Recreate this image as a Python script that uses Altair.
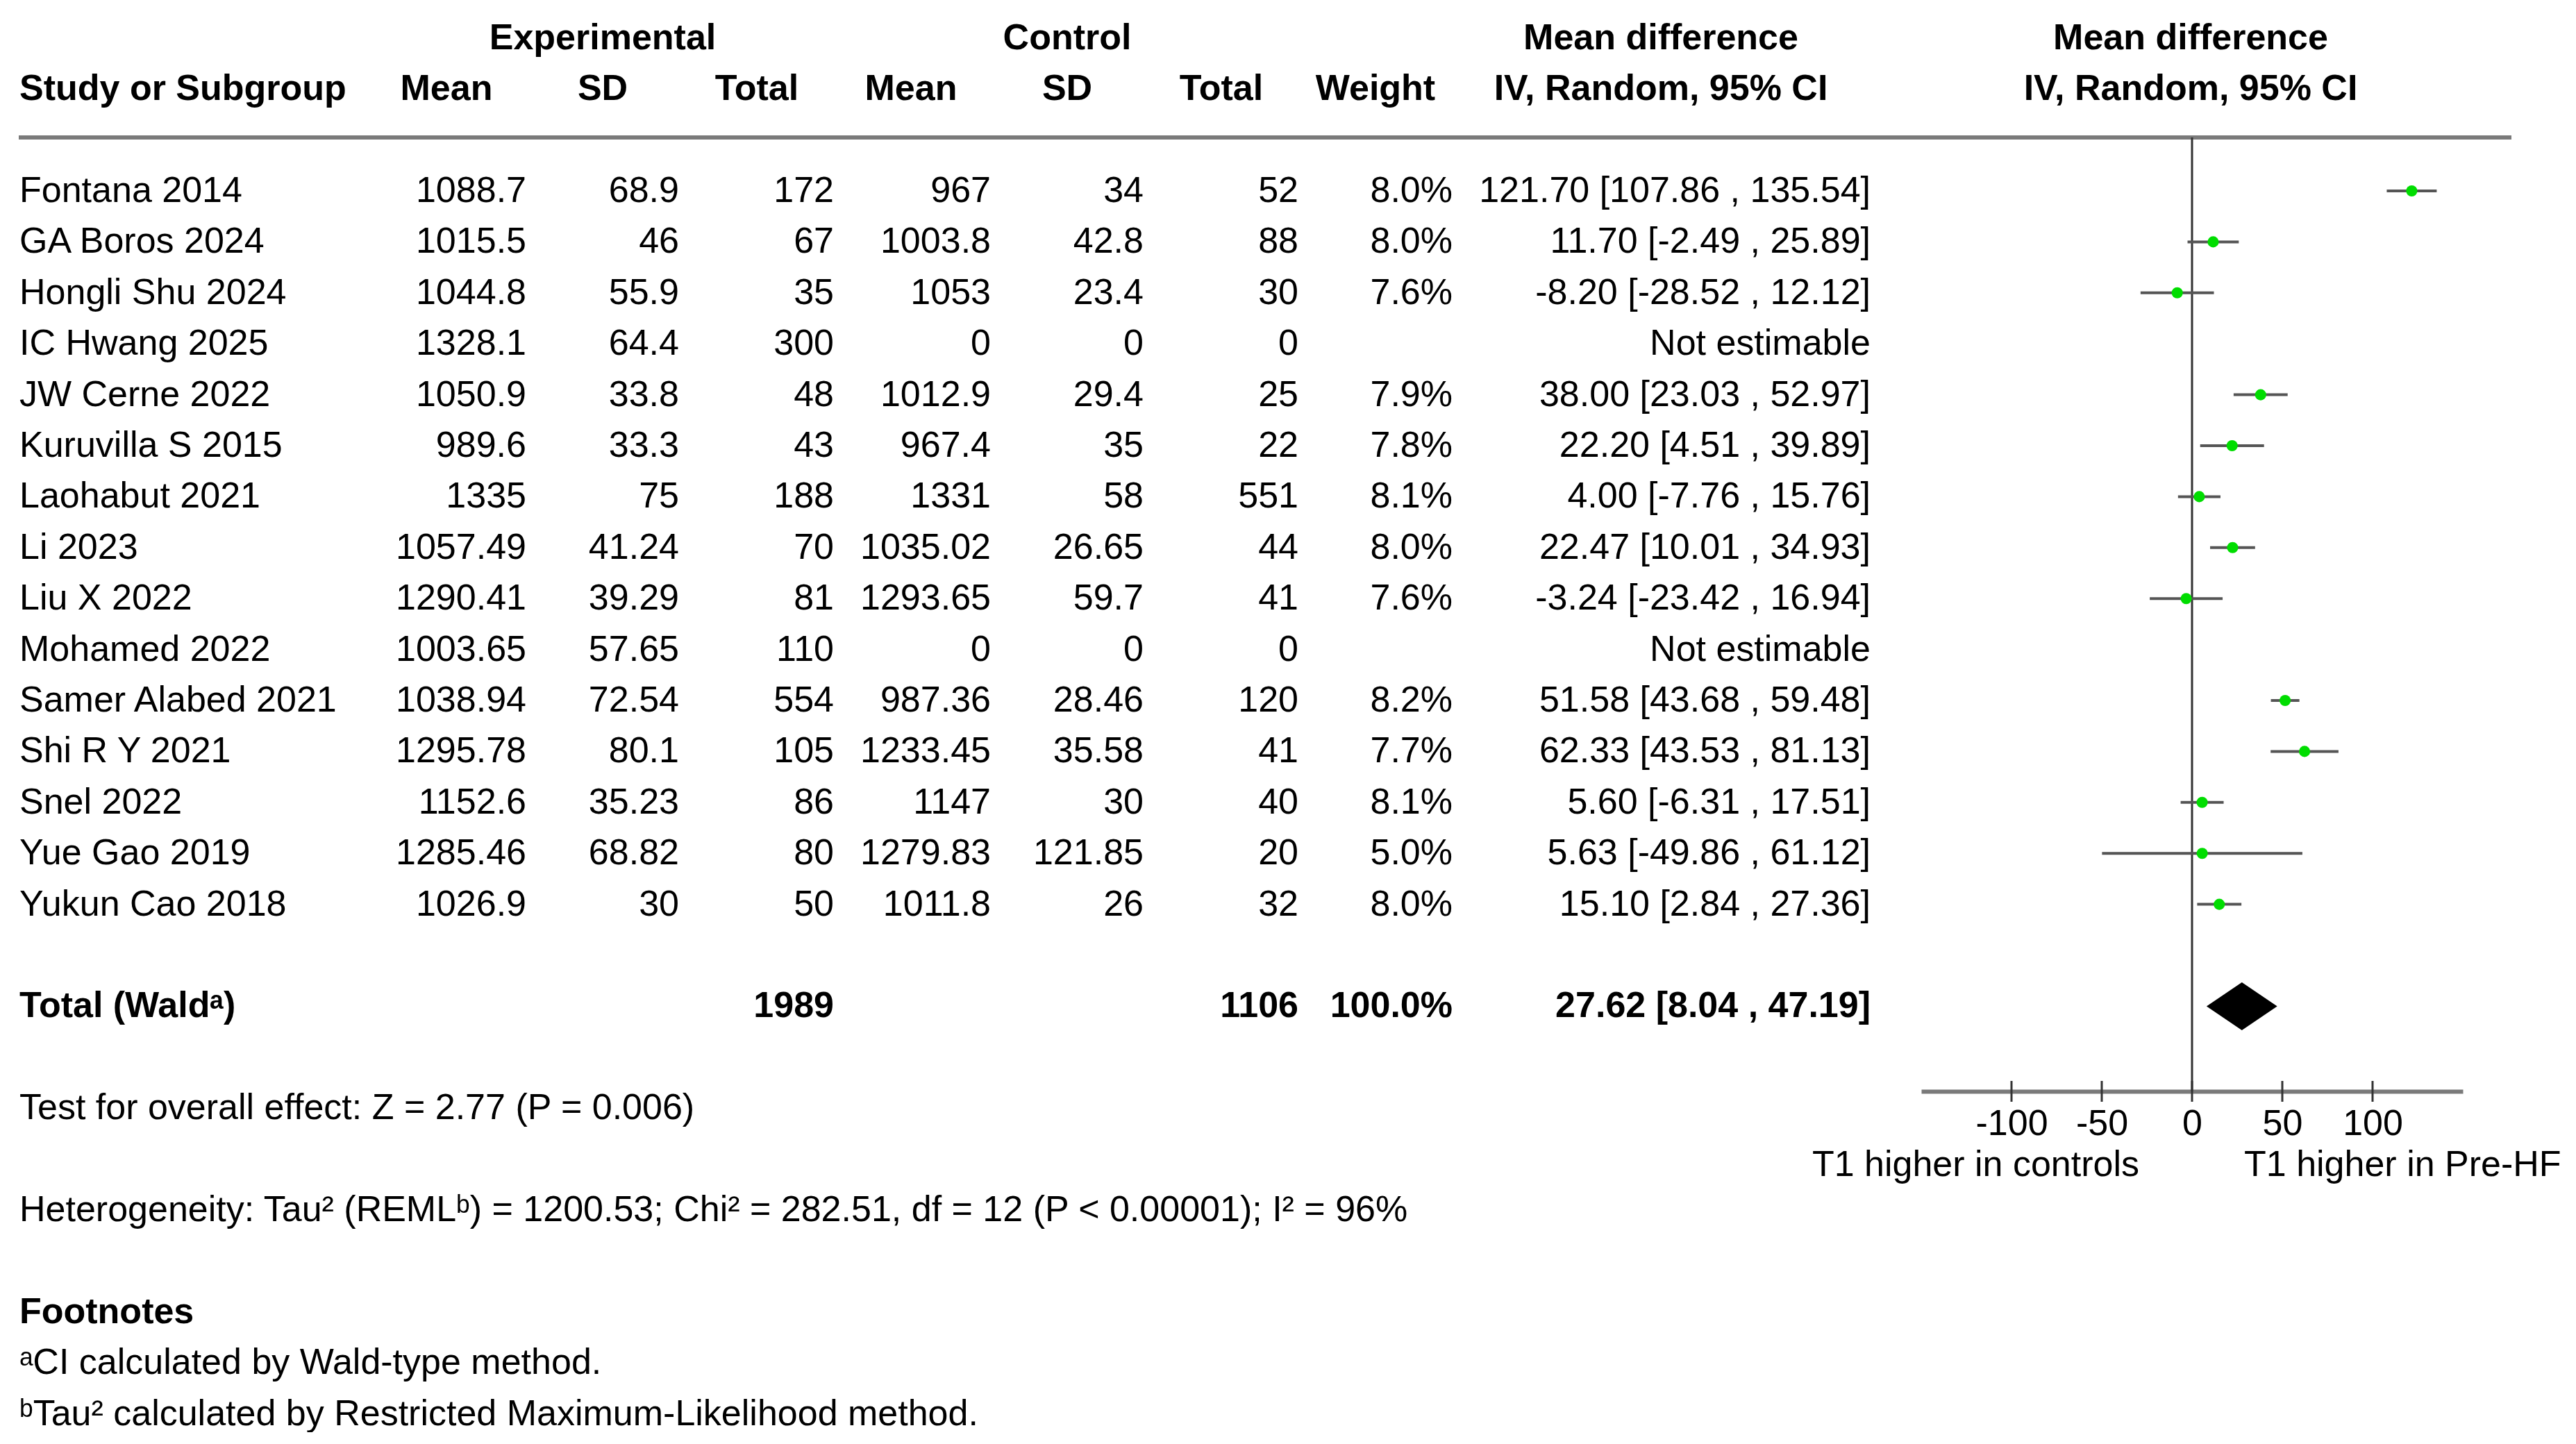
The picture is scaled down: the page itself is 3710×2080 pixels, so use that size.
import altair as alt
import pandas as pd

# ---------------- data ----------------
studies = ["Fontana 2014", "GA Boros 2024", "Hongli Shu 2024", "IC Hwang 2025", "JW Cerne 2022",
           "Kuruvilla S 2015", "Laohabut 2021", "Li 2023", "Liu X 2022", "Mohamed 2022",
           "Samer Alabed 2021", "Shi R Y 2021", "Snel 2022", "Yue Gao 2019", "Yukun Cao 2018"]
exp_mean = [1088.7, 1015.5, 1044.8, 1328.1, 1050.9, 989.6, 1335, 1057.49, 1290.41, 1003.65,
            1038.94, 1295.78, 1152.6, 1285.46, 1026.9]
exp_sd = [68.9, 46, 55.9, 64.4, 33.8, 33.3, 75, 41.24, 39.29, 57.65, 72.54, 80.1, 35.23, 68.82, 30]
exp_total = [172, 67, 35, 300, 48, 43, 188, 70, 81, 110, 554, 105, 86, 80, 50]
ctrl_mean = [967, 1003.8, 1053, 0, 1012.9, 967.4, 1331, 1035.02, 1293.65, 0, 987.36, 1233.45,
             1147, 1279.83, 1011.8]
ctrl_sd = [34, 42.8, 23.4, 0, 29.4, 35, 58, 26.65, 59.7, 0, 28.46, 35.58, 30, 121.85, 26]
ctrl_total = [52, 88, 30, 0, 25, 22, 551, 44, 41, 0, 120, 41, 40, 20, 32]
weight = [8.0, 8.0, 7.6, None, 7.9, 7.8, 8.1, 8.0, 7.6, None, 8.2, 7.7, 8.1, 5.0, 8.0]
md = [121.70, 11.70, -8.20, None, 38.00, 22.20, 4.00, 22.47, -3.24, None, 51.58, 62.33, 5.60, 5.63, 15.10]
ci_lo = [107.86, -2.49, -28.52, None, 23.03, 4.51, -7.76, 10.01, -23.42, None, 43.68, 43.53, -6.31, -49.86, 2.84]
ci_hi = [135.54, 25.89, 12.12, None, 52.97, 39.89, 15.76, 34.93, 16.94, None, 59.48, 81.13, 17.51, 61.12, 27.36]

total_label = "Total (Wald\u1d43)"
total_exp = 1989
total_ctrl = 1106
total_weight = 100.0
total_md, total_lo, total_hi = 27.62, 8.04, 47.19

x_ticks = [-100, -50, 0, 50, 100]
x_domain = [-150, 150]
left_label = "T1 higher in controls"
right_label = "T1 higher in Pre-HF"

notes = ["Test for overall effect: Z = 2.77 (P = 0.006)",
         "Heterogeneity: Tau\u00b2 (REML\u1d47) = 1200.53; Chi\u00b2 = 282.51, df = 12 (P < 0.00001); I\u00b2 = 96%"]
footnote_title = "Footnotes"
footnotes = ["\u1d43CI calculated by Wald-type method.",
             "\u1d47Tau\u00b2 calculated by Restricted Maximum-Likelihood method."]

# ---------------- layout / style ----------------
FONT = "Liberation Sans"
FS = 52
W, H = 3694, 1564          # plot area; x axis sits at the bottom edge
ROW0, DY = 267.0, 73.4     # pixel of row 0 and row pitch
def ypx(r):
    return ROW0 + DY * r

yscale = alt.Scale(domain=[0, 16], range=[ypx(0), ypx(16)])
xscale = alt.Scale(domain=x_domain, range=[2759, 3539], nice=False, zero=False)
xaxis = alt.Axis(values=x_ticks, labelExpr="toString(datum.value)", title=None, grid=False,
                 ticks=False, tickSize=0,
                 labelFont=FONT, labelFontSize=FS, labelColor="#000", labelPadding=21,
                 labelFlush=False, labelOverlap=False, domainColor="#7a7a7a", domainWidth=6)

def fmt(v):
    return "" if v is None else str(v)

rows = pd.DataFrame({
    "row": list(range(len(studies))),
    "study": studies,
    "exp_mean": [fmt(v) for v in exp_mean],
    "exp_sd": [fmt(v) for v in exp_sd],
    "exp_total": [fmt(v) for v in exp_total],
    "ctrl_mean": [fmt(v) for v in ctrl_mean],
    "ctrl_sd": [fmt(v) for v in ctrl_sd],
    "ctrl_total": [fmt(v) for v in ctrl_total],
    "weight": ["" if w is None else f"{w:.1f}%" for w in weight],
    "ci": ["Not estimable" if m is None else f"{m:.2f} [{l:.2f} , {h:.2f}]"
           for m, l, h in zip(md, ci_lo, ci_hi)],
})

forest = pd.DataFrame({"row": list(range(len(studies))), "md": md, "lo": ci_lo, "hi": ci_hi}).dropna()

TOTAL_ROW = 16
total_df = pd.DataFrame({
    "row": [TOTAL_ROW], "study": [total_label], "exp_total": [str(total_exp)],
    "ctrl_total": [str(total_ctrl)], "weight": [f"{total_weight:.1f}%"],
    "ci": [f"{total_md:.2f} [{total_lo:.2f} , {total_hi:.2f}]"],
})

HALF = 0.47
diamond = pd.DataFrame({
    "x": [total_lo, total_md, total_hi],
    "yt": [TOTAL_ROW, TOTAL_ROW - HALF, TOTAL_ROW],
    "yb": [TOTAL_ROW, TOTAL_ROW + HALF, TOTAL_ROW],
})

COLS = [("study", 28, "left"), ("exp_mean", 758, "right"), ("exp_sd", 978, "right"),
        ("exp_total", 1201, "right"), ("ctrl_mean", 1427, "right"), ("ctrl_sd", 1647, "right"),
        ("ctrl_total", 1870, "right"), ("weight", 2092, "right"), ("ci", 2694, "right")]
COLS = [(k, x - 8, a) for k, x, a in COLS]

def text_layer(df, field, x, align, bold=False):
    return alt.Chart(df).mark_text(
        align=align, baseline="middle", font=FONT, fontSize=FS,
        fontWeight="bold" if bold else "normal", color="#000"
    ).encode(
        x=alt.value(x),
        y=alt.Y("row:Q", scale=yscale, axis=None),
        text=alt.Text(f"{field}:N"),
    )

def label(text, row, x, align="center", bold=False):
    return text_layer(pd.DataFrame({"row": [row], "t": [text]}), "t", x, align, bold)

layers = []

# headers
for t, x in [("Experimental", 868), ("Control", 1537), ("Mean difference", 2392), ("Mean difference", 3155)]:
    layers.append(label(t, -3, x - 8, "center", True))
layers.append(label("Study or Subgroup", -2, 20, "left", True))
for t, x in [("Mean", 643), ("SD", 868), ("Total", 1090), ("Mean", 1312), ("SD", 1537),
             ("Total", 1759), ("Weight", 1981), ("IV, Random, 95% CI", 2392),
             ("IV, Random, 95% CI", 3155)]:
    layers.append(label(t, -2, x - 8, "center", True))

# header rule
layers.append(alt.Chart(pd.DataFrame({"a": [0]})).mark_rule(color="#7a7a7a", strokeWidth=6).encode(
    x=alt.value(19), x2=alt.value(3609), y=alt.value(ypx(-1.05))))

# table body
for key, x, align in COLS:
    layers.append(text_layer(rows, key, x, align))
for key, x, align in COLS:
    if key in total_df.columns:
        layers.append(text_layer(total_df, key, x, align, True))

# zero line
layers.append(alt.Chart(pd.DataFrame({"v": [0]})).mark_rule(color="#333", strokeWidth=3).encode(
    x=alt.X("v:Q", scale=xscale, axis=xaxis), y=alt.value(ypx(-1.05)), y2=alt.value(H)))

# CI whiskers and point estimates
layers.append(alt.Chart(forest).mark_rule(color="#555", strokeWidth=4).encode(
    x=alt.X("lo:Q", scale=xscale, axis=xaxis), x2="hi:Q",
    y=alt.Y("row:Q", scale=yscale, axis=None)))
layers.append(alt.Chart(forest).mark_point(filled=True, shape="circle", size=260, color="#00dd00",
                                           opacity=1, strokeWidth=0).encode(
    x=alt.X("md:Q", scale=xscale, axis=xaxis),
    y=alt.Y("row:Q", scale=yscale, axis=None)))

# pooled diamond
layers.append(alt.Chart(diamond).mark_area(color="#000", orient="vertical", opacity=1).encode(
    x=alt.X("x:Q", scale=xscale, axis=xaxis),
    y=alt.Y("yt:Q", scale=yscale, axis=None), y2="yb:Q"))

# axis ticks crossing the axis line
layers.append(alt.Chart(pd.DataFrame({"t": x_ticks})).mark_rule(color="#333", strokeWidth=3).encode(
    x=alt.X("t:Q", scale=xscale, axis=xaxis), y=alt.value(H - 15), y2=alt.value(H + 15)))

# direction labels
layers.append(label(left_label, 19.11, 3073, "right"))
layers.append(label(right_label, 19.11, 3224, "left"))

# notes and footnotes
layers.append(label(notes[0], 18, 20, "left"))
layers.append(label(notes[1], 20, 20, "left"))
layers.append(label(footnote_title, 22, 20, "left", True))
layers.append(label(footnotes[0], 23, 20, "left"))
layers.append(label(footnotes[1], 24, 20, "left"))

chart = alt.layer(*layers).properties(width=W, height=H, padding=0, background="white").configure_view(
    strokeWidth=0)

chart.save("out.html", embed_options={"renderer": "svg", "actions": False})
